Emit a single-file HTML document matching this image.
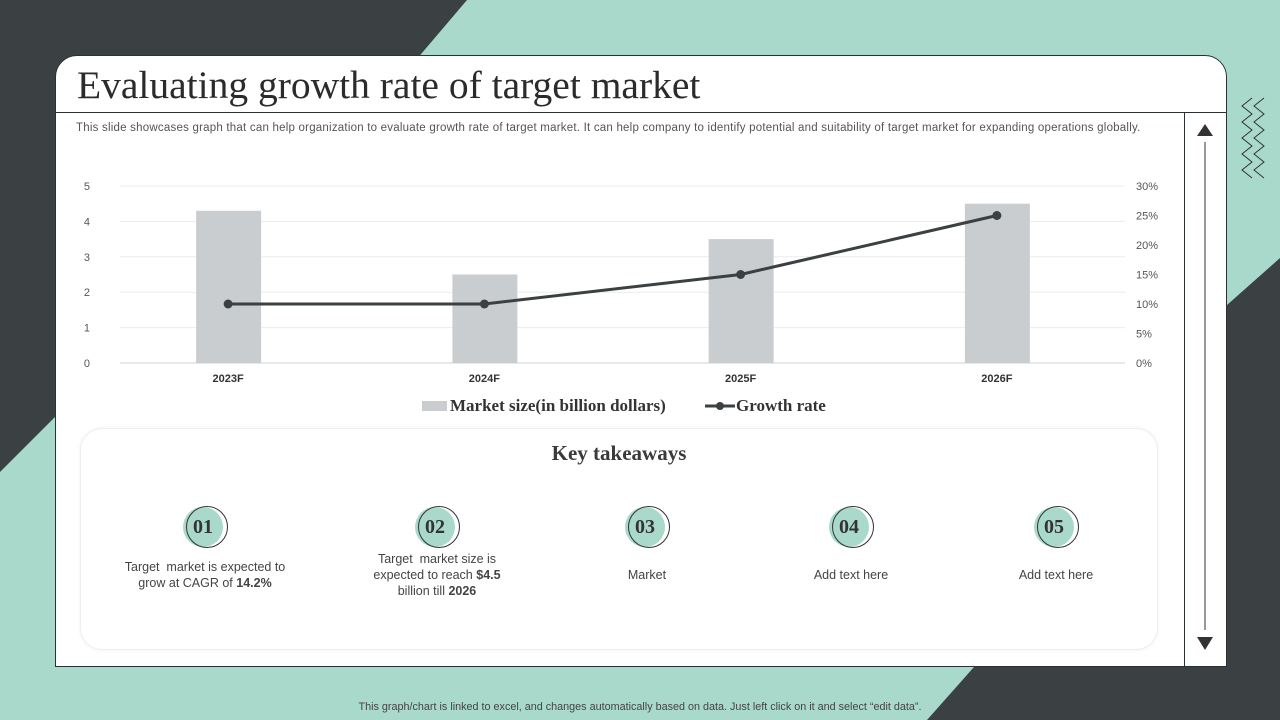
<!DOCTYPE html>
<html><head><meta charset="utf-8"><style>
body{margin:0;width:1280px;height:720px;overflow:hidden;position:relative;background:#a9d9ca;font-family:"Liberation Sans",sans-serif}
.abs{position:absolute}
.card{left:55px;top:55px;width:1170px;height:610px;border:1px solid #2b3033;border-radius:22px 22px 0 0;background:#fff}
.title{left:77px;top:62px;font-family:"Liberation Serif",serif;font-size:39.5px;color:#2b2b2b}
.desc{left:76px;top:122px;font-size:11.5px;color:#555;letter-spacing:0.22px;white-space:nowrap}
.box{left:80px;top:428px;width:1076px;height:220px;border:1px solid #eee;border-radius:22px;box-shadow:0 0 4px rgba(0,0,0,0.06)}
.tk{font-size:12.5px;color:#444;text-align:center;width:180px;line-height:16px}
.num{width:40px;height:40px;border-radius:50%;background:#a9d9ca;font-family:"Liberation Serif",serif;font-size:20px;color:#333;text-align:center;line-height:40px;font-weight:bold}
.ring{width:40px;height:40px;border-radius:50%;border:1px solid #333}
</style></head><body>
<svg class="abs" style="left:0;top:0" width="1280" height="720">
<polygon points="0,0 467,0 416,60 55,417 0,472" fill="#3b4043"/>
<polygon points="1280,258 1227,305 974,667 927,720 1280,720" fill="#3b4043"/>
<g fill="none" stroke="#333" stroke-width="1">
<polyline points="1252,98 1242,106 1252,114 1242,122 1252,130 1242,138 1252,146 1242,154 1252,162 1242,170 1252,178"/>
<polyline points="1264,98 1254,106 1264,114 1254,122 1264,130 1254,138 1264,146 1254,154 1264,162 1254,170 1264,178"/>
</g>
</svg>
<div class="abs card"></div>
<div class="abs" style="left:55px;top:112px;width:1172px;height:1px;background:#2b3033"></div>
<div class="abs" style="left:1184px;top:112px;width:1px;height:554px;background:#2b3033"></div>
<div class="abs title">Evaluating growth rate of target market</div>
<div class="abs desc">This slide showcases graph that can help organization to evaluate growth rate of target market. It can help company to identify potential and suitability of target market for expanding operations globally.</div>
<svg class="abs" style="left:1185px;top:112px" width="42" height="554">
<polygon points="20,12 12,24 28,24" fill="#333"/>
<line x1="20" y1="30" x2="20" y2="518" stroke="#333"/>
<polygon points="12,525 28,525 20,538" fill="#333"/>
</svg>
<svg id="chart" class="abs" style="left:0;top:0" width="1280" height="420"></svg>
<div class="abs box"></div>
<div class="abs" style="left:80px;top:441px;width:1078px;text-align:center;font-family:'Liberation Serif',serif;font-size:21px;font-weight:bold;color:#3a3a3a">Key takeaways</div>
<div id="tks"></div>
<div class="abs" style="left:0;top:701px;width:1280px;text-align:center;font-size:10.8px;color:#444">This graph/chart is linked to excel, and changes automatically based on data. Just left click on it and select “edit data”.</div>
<script>
const categories=["2023F","2024F","2025F","2026F"];
const marketSize=[4.3,2.5,3.5,4.5];
const growthRate=[10,10,15,25];
const leftTicks=[0,1,2,3,4,5];
const rightTicks=[0,5,10,15,20,25,30];
const NS="http://www.w3.org/2000/svg";
const svg=document.getElementById('chart');
const X0=100,X1=1125,Y0=363,Y1=186;
const xc=i=>X0+(X1-X0)*(i+0.5)/categories.length;
const yL=v=>Y0-(Y0-Y1)*v/5;
const yR=v=>Y0-(Y0-Y1)*v/30;
function el(t,a,txt){const e=document.createElementNS(NS,t);for(const k in a)e.setAttribute(k,a[k]);if(txt!=null)e.textContent=txt;svg.appendChild(e);return e;}
leftTicks.forEach(v=>{
 const g=el('line',{x1:X0+20,x2:X1,y1:yL(v),y2:yL(v),stroke:v===0?'#d0d0d0':'#ececec'});
 
 const t=el('text',{x:90,y:yL(v)+4,'text-anchor':'end','font-size':11,fill:'#555'},v);
 
});
rightTicks.forEach(v=>{
 const t=el('text',{x:1136,y:yR(v)+4,'font-size':11,fill:'#555'},v+'%');
 
});
categories.forEach((c,i)=>{
 const b=el('rect',{x:xc(i)-32,y:yL(marketSize[i]),width:65,height:Y0-yL(marketSize[i]),fill:'#c9cdd0'});
 
 const t=el('text',{x:xc(i),y:382,'text-anchor':'middle','font-size':11,'font-weight':'bold',fill:'#333'},c);
 
});
const ln=el('polyline',{points:growthRate.map((v,i)=>xc(i)+','+yR(v)).join(' '),fill:'none',stroke:'#3b4043','stroke-width':3});

growthRate.forEach((v,i)=>{const p=el('circle',{cx:xc(i),cy:yR(v),r:4.5,fill:'#3b4043'});
 });
const l1=el('rect',{x:422,y:401,width:25,height:10,fill:'#c9cdd0'});

const l2=el('text',{x:450,y:411,'font-size':17,'font-weight':'bold','font-family':'Liberation Serif,serif',fill:'#333'},'Market size(in billion dollars)');

const l3=el('line',{x1:705,x2:735,y1:406,y2:406,stroke:'#3b4043','stroke-width':3});

const l4=el('circle',{cx:720,cy:406,r:4,fill:'#3b4043'});

const l5=el('text',{x:736,y:411,'font-size':17,'font-weight':'bold','font-family':'Liberation Serif,serif',fill:'#333'},'Growth rate');


const tks=[["01",205,575,"Target&nbsp; market is expected to grow at CAGR of <b>14.2%</b>",2],
["02",437,575,"Target&nbsp; market size is expected to reach <b>$4.5</b> billion till <b>2026</b>",3],
["03",647,575,"Market",1],["04",851,575,"Add text here",1],["05",1056,575,"Add text here",1]];
const widths={"01":175,"02":140};
const host=document.getElementById('tks');
tks.forEach(t=>{
 const n=document.createElement('div');n.className='abs num';n.style.left=(t[1]-22)+'px';n.style.top='507px';n.textContent=t[0];
 
 
 host.appendChild(n);
 const r=document.createElement('div');r.className='abs ring';r.style.left=(t[1]-19)+'px';r.style.top='506px';
 
 
 host.appendChild(r);
 const w=widths[t[0]]||180;
 const d=document.createElement('div');d.className='abs tk';d.style.width=w+'px';d.style.left=(t[1]-w/2)+'px';d.style.top=(t[2]-t[4]*8)+'px';d.innerHTML=t[3];
 
 
 host.appendChild(d);
});
</script>
</body></html>
